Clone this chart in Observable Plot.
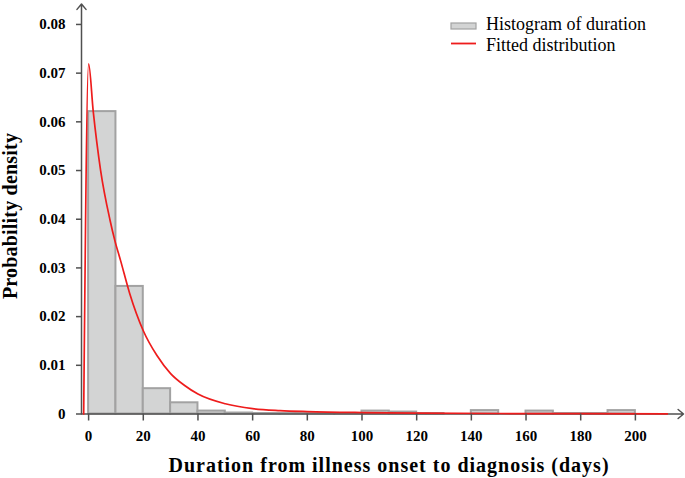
<!DOCTYPE html>
<html>
<head>
<meta charset="utf-8">
<script src="https://cdn.jsdelivr.net/npm/d3@7"></script>
<script src="https://cdn.jsdelivr.net/npm/@observablehq/plot@0.6"></script>
<style>
  html, body { margin: 0; padding: 0; background: #fff; }
  #chart { width: 685px; height: 478px; }
</style>
</head>
<body>
<div id="chart"></div>
<script>
// ---- data ----
const binStarts = [0, 10, 20, 30, 40, 50, 60, 70, 80, 90, 100, 110, 120, 130, 140, 150, 160, 170, 180, 190];
const binDensity = [0.0621, 0.0262, 0.0052, 0.0023, 0.0006, 0.0002, 0.0001, 0.0001, 0.0001, 0.0001,
                    0.0006, 0.0004, 0.0001, 0, 0.0007, 0, 0.0006, 0.0001, 0.0001, 0.0007];
const binWidth = 10;

const curveDays = [-1.8, 0, 1.7, 4.4, 7.8, 9.6, 11.7, 15, 20, 25, 30, 35, 40, 50, 60, 70, 80, 100, 120, 150, 180, 211.7];
const curveDensity = [0, 0.0719, 0.0621, 0.050, 0.0399, 0.0356, 0.0315, 0.0248, 0.0171, 0.0120, 0.0083, 0.0059,
                      0.0041, 0.0021, 0.0011, 0.0007, 0.0005, 0.0003, 0.0002, 0.0001, 0.00006, 0.00004];

const xTicks = [0, 20, 40, 60, 80, 100, 120, 140, 160, 180, 200];
const yTicks = [0, 0.01, 0.02, 0.03, 0.04, 0.05, 0.06, 0.07, 0.08];
const xMin = -2.6, xMax = 217.6, yMax = 0.0842;

const xTitle = "Duration from illness onset to diagnosis (days)";
const yTitle = "Probability density";
const legendLabels = ["Histogram of duration", "Fitted distribution"];

// ---- tables ----
const bins = binStarts.map((s, i) => ({x0: s, x1: s + binWidth, density: binDensity[i]}));
const curve = curveDays.map((d, i) => ({day: d, density: curveDensity[i]}));
const axesArrows = [
  {x1: xMin, y1: 0, x2: xMin, y2: yMax},
  {x1: xMin, y1: 0, x2: xMax, y2: 0}
];

const serif = "Liberation Serif, Times New Roman, serif";
const axisGray = "#505050";
const fmtY = d => d === 0 ? "0" : d3.format(".2f")(d);

const chart = Plot.plot({
  width: 685,
  height: 478,
  marginLeft: 81,
  marginRight: 2,
  marginTop: 3.5,
  marginBottom: 64.5,
  style: {fontFamily: serif, background: "#fff", color: "#000"},
  x: {domain: [xMin, xMax]},
  y: {domain: [0, yMax]},
  marks: [
    Plot.rectY(bins, {x1: "x0", x2: "x1", y: "density", fill: "#d3d4d4", stroke: "#a2a2a2", strokeWidth: 2}),
    Plot.arrow(axesArrows, {x1: "x1", y1: "y1", x2: "x2", y2: "y2", stroke: axisGray, strokeWidth: 1.5, headLength: 7, headAngle: 80}),
    Plot.line(curve, {x: "day", y: "density", stroke: "#ee1c1c", strokeWidth: 1.7, curve: "monotone-x"}),
    Plot.axisY({ticks: yTicks, tickFormat: fmtY, tickSize: 5, tickPadding: 11, fontSize: 15, fontWeight: "bold",
                fontFamily: serif, stroke: axisGray, strokeWidth: 1.5, label: null}),
    Plot.axisX({ticks: xTicks, tickSize: 7, tickPadding: 9, fontSize: 15, fontWeight: "bold",
                fontFamily: serif, stroke: axisGray, strokeWidth: 1.5, label: null})
  ]
});

document.getElementById("chart").appendChild(chart);

// titles and legend
const svg = d3.select(chart);
svg.append("text")
  .attr("x", 389).attr("y", 472)
  .attr("text-anchor", "middle")
  .attr("font-family", serif).attr("font-weight", "bold").attr("font-size", 20)
  .attr("letter-spacing", 1)
  .attr("fill", "#000")
  .text(xTitle);
svg.append("text")
  .attr("transform", "translate(17,216) rotate(-90)")
  .attr("text-anchor", "middle")
  .attr("font-family", serif).attr("font-weight", "bold").attr("font-size", 20)
  .attr("letter-spacing", 0.2)
  .attr("fill", "#000")
  .text(yTitle);

const lg = svg.append("g");
lg.append("rect").attr("x", 451).attr("y", 23).attr("width", 25).attr("height", 6)
  .attr("fill", "#d3d4d4").attr("stroke", "#a2a2a2").attr("stroke-width", 1.2);
lg.append("line").attr("x1", 451).attr("x2", 476).attr("y1", 43.5).attr("y2", 43.5)
  .attr("stroke", "#ee1c1c").attr("stroke-width", 1.8);
legendLabels.forEach((t, i) => {
  lg.append("text").attr("x", 486).attr("y", 29.5 + i * 21)
    .attr("text-anchor", "start")
    .attr("font-family", serif).attr("font-size", 18).attr("fill", "#000")
    .text(t);
});
</script>
</body>
</html>
